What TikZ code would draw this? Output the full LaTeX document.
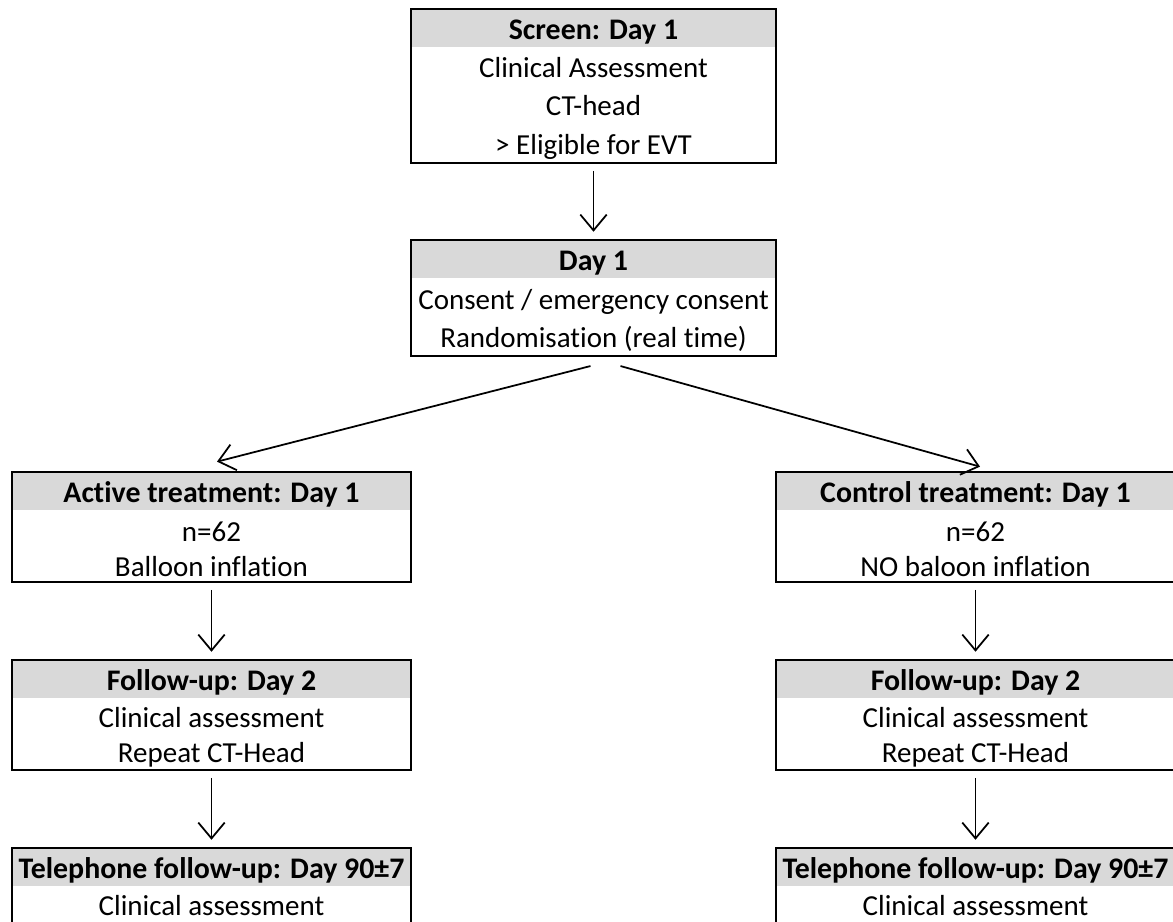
\documentclass[tikz,border=0pt]{standalone}
\usepackage{fontspec}
\setmainfont{Carlito}[Ligatures={NoCommon}]
\usepackage{tikz}
\usetikzlibrary{positioning,arrows.meta,calc}
\definecolor{headgray}{HTML}{D9D9D9}

\tikzset{
    head/.style={fill=headgray, inner sep=0pt,
        minimum width=#1, minimum height=0.76cm,
        text height=13pt, text depth=0pt,
        font=\fontsize{17}{20}\selectfont\bfseries},
    body/.style={inner sep=0pt, align=center,
        minimum width=#1,
        font=\fontsize{16.5}{20}\selectfont},
    frame/.style={draw, line width=1.1pt},
    flow/.style={->, line width=1pt, shorten >=4.5pt, shorten <=4.5pt}
}

\begin{document}
\begin{tikzpicture}[x=0.02cm, y=-0.02cm, >={Straight Barb[length=9pt,width=15pt]}]
    \clip (0,0) rectangle (1173,921);

    \node [head=7.3cm] (ScreenHead) at (593.5,28) {Screen: Day 1};
    \node [body=7.3cm,
        minimum height=2.18cm,
        font=\fontsize{16.5}{22}\selectfont,
        below=0.12cm of ScreenHead
    ] (ScreenBody) {Clinical Assessment\\ CT-head\\ > Eligible for EVT};
    \draw [frame] (ScreenHead.north west) rectangle (ScreenBody.south east);

    \node [head=7.3cm] (DayHead) at (593.5,259) {Day 1};
    \node [body=7.3cm,
        minimum height=1.42cm,
        font=\fontsize{16.5}{21.5}\selectfont,
        below=0.12cm of DayHead
    ] (DayBody) {Consent / emergency consent\\ Randomisation (real time)};
    \draw [frame] (DayHead.north west) rectangle (DayBody.south east);

    \node [head=7.98cm] (ActiveHead) at (211.5,491) {Active treatment: Day 1};
    \node [body=7.98cm,
        minimum height=1.30cm,
        below=0.12cm of ActiveHead
    ] (ActiveBody) {n=62\\ Balloon inflation};
    \draw [frame] (ActiveHead.north west) rectangle (ActiveBody.south east);

    \node [head=7.98cm] (ControlHead) at (975.5,491) {Control treatment: Day 1};
    \node [body=7.98cm,
        minimum height=1.30cm,
        below=0.12cm of ControlHead
    ] (ControlBody) {n=62\\ NO baloon inflation};
    \draw [frame] (ControlHead.north west) rectangle (ControlBody.south east);

    \node [head=7.98cm] (ActiveFollowHead) at (211.5,679) {Follow-up: Day 2};
    \node [body=7.98cm,
        minimum height=1.30cm,
        below=0.12cm of ActiveFollowHead
    ] (ActiveFollowBody) {Clinical assessment\\ Repeat CT-Head};
    \draw [frame] (ActiveFollowHead.north west) rectangle (ActiveFollowBody.south east);

    \node [head=7.98cm] (ControlFollowHead) at (975.5,679) {Follow-up: Day 2};
    \node [body=7.98cm,
        minimum height=1.30cm,
        below=0.12cm of ControlFollowHead
    ] (ControlFollowBody) {Clinical assessment\\ Repeat CT-Head};
    \draw [frame] (ControlFollowHead.north west) rectangle (ControlFollowBody.south east);

    \node [head=7.98cm] (ActivePhoneHead) at (211.5,867) {Telephone follow-up: Day 90±7};
    \node [body=7.98cm,
        minimum height=1.22cm,
        below=0.12cm of ActivePhoneHead
    ] (ActivePhoneBody) {Clinical assessment\\ ~};
    \draw [frame] (ActivePhoneHead.north west) rectangle (ActivePhoneBody.south east);

    \node [head=7.98cm] (ControlPhoneHead) at (975.5,867) {Telephone follow-up: Day 90±7};
    \node [body=7.98cm,
        minimum height=1.22cm,
        below=0.12cm of ControlPhoneHead
    ] (ControlPhoneBody) {Clinical assessment\\ ~};
    \draw [frame] (ControlPhoneHead.north west) rectangle (ControlPhoneBody.south east);

    \coordinate (SplitLeft) at ($(DayBody.south)+(-3,10)$);
    \coordinate (SplitRight) at ($(DayBody.south)+(27,10)$);

    \draw [flow] (ScreenBody.south) -- (DayHead.north);
    \draw [flow, shorten <=0pt, shorten >=0pt] (SplitLeft) -- ($(ActiveHead.north)+(5.5,-10)$);
    \draw [flow, shorten <=0pt, shorten >=0pt] (SplitRight) -- ($(ControlHead.north)+(4.5,-5)$);
    \draw [flow] (ActiveBody.south) -- (ActiveFollowHead.north);
    \draw [flow] (ControlBody.south) -- (ControlFollowHead.north);
    \draw [flow] (ActiveFollowBody.south) -- (ActivePhoneHead.north);
    \draw [flow] (ControlFollowBody.south) -- (ControlPhoneHead.north);
\end{tikzpicture}
\end{document}
